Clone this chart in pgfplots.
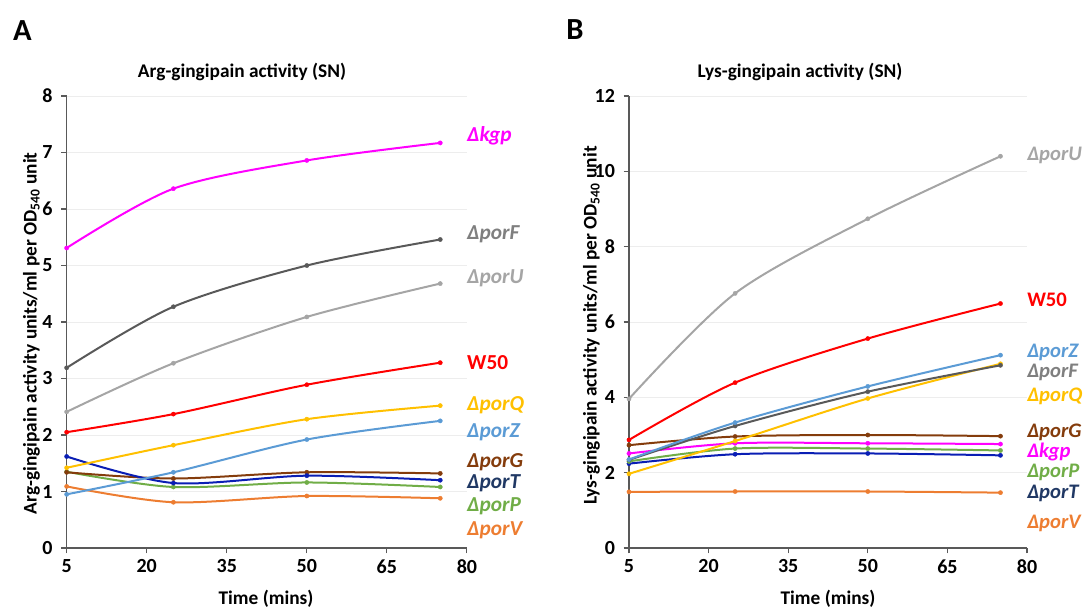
\documentclass[border=0pt]{standalone}
\usepackage{fontspec}
\setmainfont{Carlito}
\usepackage{pgfplots}
\pgfplotsset{compat=1.18}
\definecolor{ckgp}{HTML}{FF00FF}
\definecolor{cporF}{HTML}{595959}
\definecolor{cporFl}{HTML}{7F7F7F}
\definecolor{cporU}{HTML}{A5A5A5}
\definecolor{cW}{HTML}{FF0000}
\definecolor{cporQ}{HTML}{FFC000}
\definecolor{cporZ}{HTML}{5B9BD5}
\definecolor{cporG}{HTML}{843C0C}
\definecolor{cporT}{HTML}{0A1EB4}
\definecolor{cporTl}{HTML}{203864}
\definecolor{cporP}{HTML}{70AD47}
\definecolor{cporV}{HTML}{ED7D31}
\definecolor{axc}{HTML}{595959}
\tikzset{
  lab/.style={anchor=west, inner sep=0pt, font=\fontsize{16}{17}\selectfont\bfseries\itshape},
  labb/.style={anchor=west, inner sep=0pt, font=\fontsize{15.5}{16}\selectfont\bfseries\itshape},
}
\pgfplotsset{
  myax/.style={
    scale only axis, height=339pt, ymin=0, xmin=5, xmax=80,
    xtick={5,20,35,50,65,80},
    axis x line*=bottom, axis y line*=left,
    axis line style={-, color=axc, line width=0.8pt},
    tick style={color=axc, line width=0.8pt},
    tick align=outside, major tick length=4pt,
    ymajorgrids, grid style={color=black!7, line width=0.6pt},
    /pgf/number format/assume math mode=true,
    ticklabel style={font=\fontsize{15}{17}\selectfont\bfseries},
    yticklabel style={xshift=-3pt},
    xticklabel style={yshift=-1pt},
    clip=false,
    every axis plot/.append style={smooth, line width=1.5pt, mark=*, mark size=1.6pt, mark options={line width=0.3pt}},
  },
}
\begin{document}
\begin{tikzpicture}
\useasboundingbox (0,0) rectangle (814.5pt,456pt);
% Panel A
\begin{axis}[myax, at={(50pt,45pt)}, anchor=south west, width=300.2pt, ymax=8, ytick={0,1,...,8}]
\addplot[cporV] coordinates {(5,1.09)(25,0.81)(50,0.92)(75,0.88)};
\addplot[cporP] coordinates {(5,1.35)(25,1.08)(50,1.16)(75,1.08)};
\addplot[cporG] coordinates {(5,1.34)(25,1.23)(50,1.34)(75,1.32)};
\addplot[cporT] coordinates {(5,1.62)(25,1.15)(50,1.28)(75,1.20)};
\addplot[cporZ] coordinates {(5,0.95)(25,1.34)(50,1.92)(75,2.25)};
\addplot[cporQ] coordinates {(5,1.42)(25,1.82)(50,2.28)(75,2.52)};
\addplot[cW] coordinates {(5,2.05)(25,2.37)(50,2.89)(75,3.28)};
\addplot[cporU] coordinates {(5,2.41)(25,3.27)(50,4.09)(75,4.68)};
\addplot[cporF] coordinates {(5,3.19)(25,4.27)(50,5.00)(75,5.46)};
\addplot[ckgp] coordinates {(5,5.31)(25,6.36)(50,6.86)(75,7.17)};
\node[lab, text=ckgp] at (axis cs:80,7.29) {Δkgp};
\node[lab, text=cporFl] at (axis cs:80,5.56) {ΔporF};
\node[lab, text=cporU] at (axis cs:80,4.78) {ΔporU};
\node[lab, text=cW, font=\fontsize{16}{17}\selectfont\bfseries] at (axis cs:80,3.29) {W50};
\node[lab, text=cporQ] at (axis cs:80,2.53) {ΔporQ};
\node[lab, text=cporZ] at (axis cs:80,2.05) {ΔporZ};
\node[lab, text=cporG] at (axis cs:80,1.52) {ΔporG};
\node[lab, text=cporTl] at (axis cs:80,1.15) {ΔporT};
\node[lab, text=cporP] at (axis cs:80,0.73) {ΔporP};
\node[lab, text=cporV] at (axis cs:80,0.32) {ΔporV};
\end{axis}
% Panel B
\begin{axis}[myax, at={(471.75pt,45pt)}, anchor=south west, width=298.5pt, ymax=12, ytick={0,2,...,12}]
\addplot[cporV] coordinates {(5,1.49)(25,1.50)(50,1.50)(75,1.47)};
\addplot[cporT] coordinates {(5,2.24)(25,2.49)(50,2.51)(75,2.46)};
\addplot[cporP] coordinates {(5,2.30)(25,2.64)(50,2.64)(75,2.59)};
\addplot[ckgp] coordinates {(5,2.51)(25,2.78)(50,2.78)(75,2.76)};
\addplot[cporG] coordinates {(5,2.73)(25,2.96)(50,3.00)(75,2.97)};
\addplot[cporQ] coordinates {(5,1.97)(25,2.84)(50,3.97)(75,4.89)};
\addplot[cporF] coordinates {(5,2.34)(25,3.24)(50,4.15)(75,4.85)};
\addplot[cporZ] coordinates {(5,2.35)(25,3.33)(50,4.29)(75,5.12)};
\addplot[cW] coordinates {(5,2.87)(25,4.39)(50,5.56)(75,6.49)};
\addplot[cporU] coordinates {(5,3.96)(25,6.76)(50,8.74)(75,10.40)};
\node[labb, text=cporU] at (axis cs:80,10.43) {ΔporU};
\node[labb, text=cW, font=\fontsize{15.5}{16}\selectfont\bfseries] at (axis cs:80,6.58) {W50};
\node[labb, text=cporZ] at (axis cs:80,5.18) {ΔporZ};
\node[labb, text=cporFl] at (axis cs:80,4.65) {ΔporF};
\node[labb, text=cporQ] at (axis cs:80,4.03) {ΔporQ};
\node[labb, text=cporG] at (axis cs:80,3.07) {ΔporG};
\node[labb, text=ckgp] at (axis cs:80,2.54) {Δkgp};
\node[labb, text=cporP] at (axis cs:80,2.00) {ΔporP};
\node[labb, text=cporTl] at (axis cs:80,1.46) {ΔporT};
\node[labb, text=cporV] at (axis cs:80,0.66) {ΔporV};
\end{axis}
% Texts
\node[font=\fontsize{23}{26}\selectfont\bfseries] at (16.9pt,432.75pt) {A};
\node[font=\fontsize{23}{26}\selectfont\bfseries] at (431.25pt,433.5pt) {B};
\node[font=\fontsize{14.5}{16}\selectfont\bfseries] at (181.5pt,402pt) {Arg-gingipain activity (SN)};
\node[font=\fontsize{14.5}{16}\selectfont\bfseries] at (600pt,402pt) {Lys-gingipain activity (SN)};
\node[font=\fontsize{14.5}{16}\selectfont\bfseries, rotate=90] at (23.6pt,206pt) {Arg-gingipain activity units/ml per OD\textsubscript{540} unit};
\node[font=\fontsize{14.5}{16}\selectfont\bfseries, rotate=90] at (443.6pt,212pt) {Lys-gingipain activity units/ml per OD\textsubscript{540} unit};
\node[font=\fontsize{14.5}{16}\selectfont\bfseries] at (199.5pt,7pt) {Time (mins)};
\node[font=\fontsize{14.5}{16}\selectfont\bfseries] at (621pt,7pt) {Time (mins)};
\end{tikzpicture}
\end{document}
